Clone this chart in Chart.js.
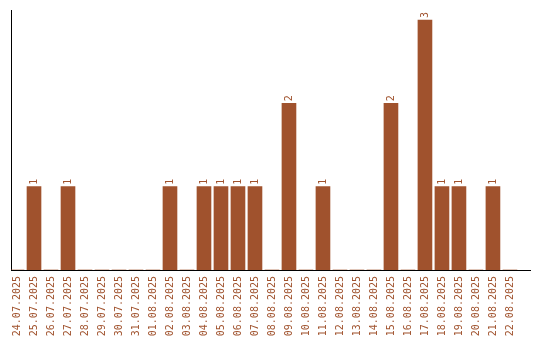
<!DOCTYPE html>
<html>
<head>
<meta charset="utf-8">
<script src="https://cdn.jsdelivr.net/npm/chart.js@4"></script>
<style>
  html, body { margin: 0; padding: 0; background: #fff; }
  #wrap { width: 540px; height: 340px; }
</style>
</head>
<body>
<div id="wrap"><canvas id="chart" width="540" height="340"></canvas></div>
<script>
const dates = ['24.07.2025', '25.07.2025', '26.07.2025', '27.07.2025', '28.07.2025', '29.07.2025',
  '30.07.2025', '31.07.2025', '01.08.2025', '02.08.2025', '03.08.2025', '04.08.2025',
  '05.08.2025', '06.08.2025', '07.08.2025', '08.08.2025', '09.08.2025', '10.08.2025',
  '11.08.2025', '12.08.2025', '13.08.2025', '14.08.2025', '15.08.2025', '16.08.2025',
  '17.08.2025', '18.08.2025', '19.08.2025', '20.08.2025', '21.08.2025', '22.08.2025']
const counts = [0, 1, 0, 1, 0, 0, 0, 0, 0, 1, 0, 1, 1, 1, 1, 0, 2, 0, 1, 0, 0, 0, 2, 0, 3, 1, 1, 0, 1, 0]

const barColor = '#a0522d'
const monoFont = { family: "'DejaVu Sans Mono', monospace", size: 10 }

// value labels above the bars, rotated like the x ticks
const barLabels = {
  id: 'barLabels',
  afterDatasetsDraw(chart) {
    const ctx = chart.ctx
    const meta = chart.getDatasetMeta(0)
    ctx.save()
    ctx.fillStyle = barColor
    ctx.font = "10px 'DejaVu Sans Mono', monospace"
    ctx.textAlign = 'left'
    ctx.textBaseline = 'middle'
    meta.data.forEach((bar, i) => {
      if (!counts[i]) return
      ctx.save()
      ctx.translate(bar.x, bar.y - 2)
      ctx.rotate(-Math.PI / 2)
      ctx.fillText(String(counts[i]), 0, 0)
      ctx.restore()
    })
    ctx.restore()
  },
}

new Chart(document.getElementById('chart'), {
  type: 'bar',
  data: {
    datasets: [
      {
        data: counts.map((v, i) => ({ x: i, y: v })),
        backgroundColor: barColor,
        barThickness: 14,
      },
    ],
  },
  options: {
    responsive: false,
    animation: false,
    layout: { padding: { left: 11, top: 10, right: 10, bottom: 0 } },
    plugins: { legend: { display: false }, tooltip: { enabled: false } },
    scales: {
      x: {
        type: 'linear',
        offset: false,
        min: -0.353,
        max: 30.18,
        grid: { display: false, drawTicks: false },
        border: { color: '#000', width: 1 },
        afterBuildTicks(scale) {
          scale.ticks = dates.map((_, i) => ({ value: i }))
        },
        afterFit(scale) {
          scale.height = 70
          scale.paddingLeft = 0
          scale.paddingRight = 0
        },
        ticks: {
          autoSkip: false,
          minRotation: 90,
          maxRotation: 90,
          padding: 6,
          color: barColor,
          font: monoFont,
          callback: (v) => dates[v] || '',
        },
      },
      y: {
        min: 0,
        max: 3.12,
        grid: { display: false, drawTicks: false },
        border: { color: '#000', width: 1 },
        ticks: { display: false },
        afterFit(scale) {
          scale.width = 0
          scale.paddingTop = 0
          scale.paddingBottom = 0
        },
      },
    },
  },
  plugins: [barLabels],
})
</script>
</body>
</html>
